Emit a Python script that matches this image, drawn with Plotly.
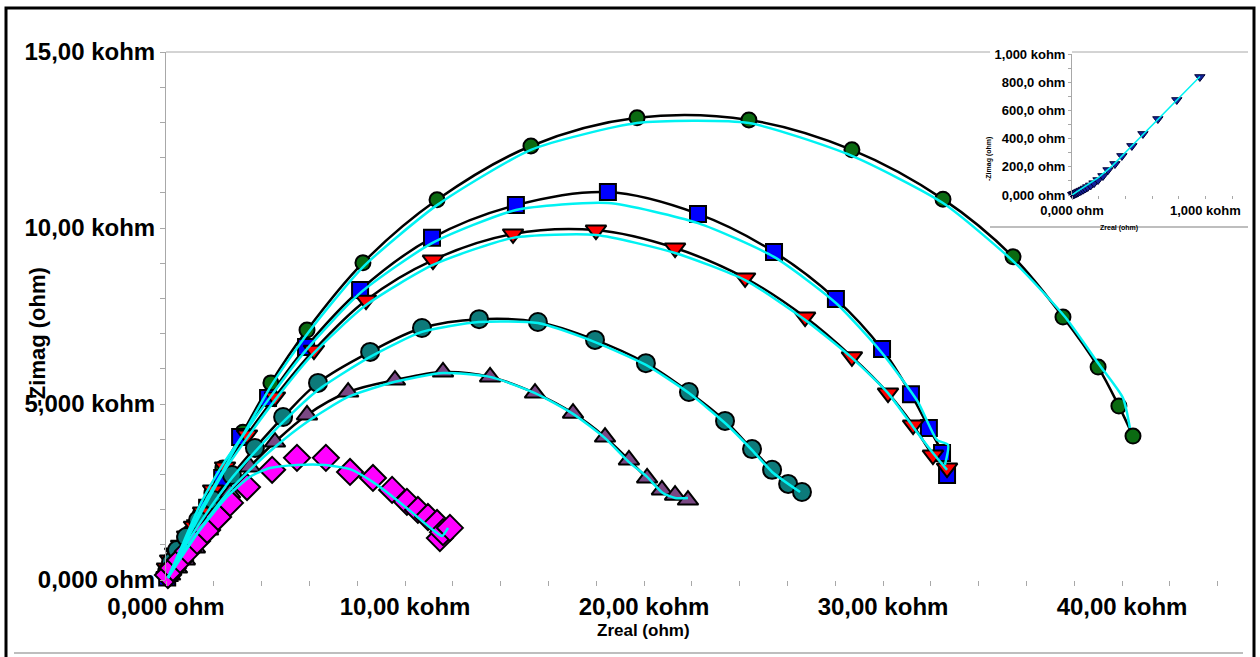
import plotly.graph_objects as go

# ---------------- data (kohm) ----------------
# Measured impedance spectra: Zreal / -Zimag per sample
zr_green = [0.05, 0.13, 0.25, 0.42, 0.67, 1.00, 1.42, 1.92, 2.38, 3.22, 4.39, 5.90, 8.24, 11.34,
            15.27, 19.71, 24.39, 28.70, 32.51, 35.44, 37.53, 39.00, 39.87, 40.46]
zi_green = [0.06, 0.17, 0.34, 0.57, 0.91, 1.34, 1.85, 2.47, 3.18, 4.20, 5.60, 7.10, 9.01, 10.80,
            12.33, 13.13, 13.07, 12.22, 10.82, 9.18, 7.47, 6.05, 4.94, 4.09]

zr_blue = [0.05, 0.15, 0.30, 0.52, 0.82, 1.22, 1.72, 2.35, 3.10, 4.27, 5.86, 8.12, 11.13, 14.64,
           18.49, 22.26, 25.44, 28.03, 29.96, 31.17, 31.92, 32.47, 32.68]
zi_blue = [0.07, 0.20, 0.40, 0.66, 1.02, 1.47, 2.05, 2.90, 4.06, 5.17, 6.62, 8.24, 9.72, 10.65,
           11.02, 10.40, 9.32, 7.98, 6.56, 5.28, 4.32, 3.61, 2.98]

zr_red = [0.02, 0.04, 0.17, 0.38, 0.63, 0.88, 1.17, 1.55, 1.97, 2.47, 3.39, 4.56, 6.19, 8.37, 11.17,
          14.52, 17.99, 21.30, 24.23, 26.74, 28.70, 30.21, 31.26, 32.09, 32.68]
zi_red = [0.10, 0.34, 0.57, 0.77, 0.99, 1.25, 1.53, 1.93, 2.56, 3.21, 4.12, 5.20, 6.53, 7.95, 9.09,
          9.83, 9.94, 9.43, 8.58, 7.47, 6.34, 5.31, 4.40, 3.55, 3.18]

zr_teal = [0.04, 0.21, 0.46, 0.84, 1.34, 1.97, 2.76, 3.72, 4.90, 6.36, 8.54, 10.71, 13.10, 15.56,
           17.95, 20.08, 21.88, 23.39, 24.52, 25.36, 26.03, 26.61]
zi_teal = [0.23, 0.51, 0.85, 1.22, 1.70, 2.27, 2.98, 3.75, 4.63, 5.60, 6.48, 7.16, 7.41, 7.33,
           6.82, 6.16, 5.34, 4.52, 3.72, 3.13, 2.73, 2.50]

zr_purple = [0.17, 0.46, 0.79, 1.21, 1.76, 2.20, 2.68, 3.51, 4.56, 5.90, 7.62, 9.58, 11.59, 13.56,
             15.44, 17.03, 18.37, 19.37, 20.13, 20.75, 21.30, 21.84]
zi_purple = [0.14, 0.34, 0.57, 0.91, 1.42, 1.90, 2.47, 3.21, 3.92, 4.69, 5.34, 5.68, 5.91, 5.77,
             5.31, 4.74, 4.06, 3.41, 2.90, 2.56, 2.41, 2.27]

zr_magenta = [0.08, 0.29, 0.59, 0.92, 1.30, 1.72, 2.18, 2.68, 3.39, 4.44, 5.48, 6.69, 7.70, 8.66,
              9.46, 10.08, 10.54, 10.96, 11.34, 11.46, 11.59, 11.88]
zi_magenta = [0.14, 0.34, 0.57, 0.82, 1.11, 1.42, 1.79, 2.19, 2.64, 3.13, 3.47, 3.47, 3.07, 2.90,
              2.56, 2.22, 1.99, 1.79, 1.62, 1.19, 1.36, 1.48]

# Equivalent-circuit fit curves (kohm)
fit_zr_green = [0.08, 0.59, 1.42, 2.34, 3.22, 4.39, 5.94, 8.24, 11.34, 15.27, 19.71, 24.39, 28.70,
                32.51, 35.52, 37.62, 39.00, 40.04, 40.33]
fit_zi_green = [0.06, 0.85, 2.13, 3.24, 4.12, 5.51, 7.02, 8.89, 10.65, 12.22, 12.98, 12.98, 12.05,
                10.71, 9.01, 7.47, 6.16, 5.17, 4.32]

fit_zr_blue = [0.08, 0.60, 1.45, 2.30, 3.10, 4.27, 5.86, 8.12, 11.13, 14.64, 18.49, 22.26, 25.44,
               28.03, 29.96, 31.46, 32.26, 32.72, 32.59]
fit_zi_blue = [0.06, 0.82, 2.00, 3.00, 3.98, 5.11, 6.53, 8.15, 9.57, 10.51, 10.71, 10.14, 9.18,
               7.87, 6.45, 5.06, 3.98, 3.84, 3.27]

fit_zr_red = [0.08, 0.62, 1.50, 2.47, 3.39, 4.56, 6.19, 8.37, 11.17, 14.52, 17.99, 21.30, 24.23,
              26.74, 28.70, 30.21, 31.26, 32.09, 32.68]
fit_zi_red = [0.06, 0.80, 1.95, 3.13, 4.03, 5.11, 6.45, 7.81, 8.95, 9.72, 9.80, 9.29, 8.52, 7.39,
              6.31, 5.31, 4.35, 3.61, 3.13]

fit_zr_teal = [0.08, 0.70, 1.70, 2.70, 3.72, 4.90, 6.36, 8.54, 10.71, 13.10, 15.56, 17.95, 20.08,
               21.88, 23.39, 24.52, 25.36, 26.53]
fit_zi_teal = [0.06, 0.85, 1.90, 2.85, 3.64, 4.49, 5.40, 6.34, 7.05, 7.33, 7.30, 6.76, 6.11, 5.31,
               4.46, 3.69, 3.07, 2.50]

fit_zr_purple = [0.08, 0.80, 1.80, 2.60, 3.51, 4.56, 5.90, 7.62, 9.58, 11.59, 13.56, 15.44, 17.03,
                 18.37, 19.37, 20.13, 20.79, 21.30, 21.84]
fit_zi_purple = [0.06, 0.85, 1.80, 2.50, 3.13, 3.78, 4.49, 5.20, 5.63, 5.88, 5.77, 5.31, 4.72,
                 4.03, 3.35, 2.93, 2.47, 2.33, 2.33]

fit_zr_magenta = [0.08, 0.60, 1.42, 2.55, 3.51, 4.35, 5.48, 6.65, 7.78, 8.66, 9.50, 10.33, 11.17,
                  11.55, 11.80]
fit_zi_magenta = [0.06, 0.60, 1.42, 2.36, 2.93, 3.18, 3.27, 3.27, 3.13, 2.78, 2.36, 1.90, 1.42,
                  1.25, 1.48]

# High-frequency detail (ohm)
zr_inset = [5, 10, 15, 22, 30, 38, 48, 58, 70, 85, 100, 118, 140, 165, 195, 232, 270, 322, 374,
            449, 532, 644, 786, 959]
zi_inset = [2, 4, 6, 9, 12, 16, 20, 25, 31, 38, 46, 56, 68, 84, 106, 135, 177, 220, 277, 348, 433,
            539, 674, 837]
fit_zr_inset = [0, 100, 200, 300, 450, 650, 800, 960]
fit_zi_inset = [0, 60, 125, 205, 350, 545, 690, 840]

x_tickvals = [0, 10, 20, 30, 40]
x_ticktext = ["0,000 ohm", "10,00 kohm", "20,00 kohm", "30,00 kohm", "40,00 kohm"]
y_tickvals = [0, 5, 10, 15]
y_ticktext = ["0,000 ohm", "5,000 kohm", "10,00 kohm", "15,00 kohm"]
xi_tickvals = [0, 1000]
xi_ticktext = ["0,000 ohm", "1,000 kohm"]
yi_tickvals = [0, 200, 400, 600, 800, 1000]
yi_ticktext = ["0,000 ohm", "200,0 ohm", "400,0 ohm", "600,0 ohm", "800,0 ohm", "1,000 kohm"]

# ---------------- layout geometry (pixels) ----------------
W, H = 1260, 657
L, R, T, B = 166, 1248, 52, 580
X_PER_K = 23.9


def px(x):
    return (x - L) / (R - L)


def py(y):
    return (B - y) / (B - T)


SANS = "Liberation Sans, Arial, sans-serif"
CYAN = "#00f2f2"
GREY = "#a8a8a8"

series = [
    (zr_green, zi_green, fit_zr_green, fit_zi_green, "circle", 15, "#0b6b12", True),
    (zr_blue, zi_blue, fit_zr_blue, fit_zi_blue, "square", 16, "#0000ff", True),
    (zr_red, zi_red, fit_zr_red, fit_zi_red, "triangle-down", 18, "#ff0000", True),
    (zr_teal, zi_teal, fit_zr_teal, fit_zi_teal, "circle", 18, "#0d7a7a", True),
    (zr_purple, zi_purple, fit_zr_purple, fit_zi_purple, "triangle-up", 18, "#7a4884", True),
    (zr_magenta, zi_magenta, fit_zr_magenta, fit_zi_magenta, "diamond", 20, "#ff00ff", False),
]

fig = go.Figure()

# smooth black guides
for zr, zi, fzr, fzi, sym, size, col, guide in series:
    if guide:
        fig.add_trace(go.Scatter(x=zr, y=zi, mode="lines",
                                 line=dict(color="black", width=2.5, shape="spline", smoothing=1.0),
                                 cliponaxis=False, hoverinfo="skip", showlegend=False))
# data markers
for zr, zi, fzr, fzi, sym, size, col, guide in series:
    fig.add_trace(go.Scatter(x=zr, y=zi, mode="markers",
                             marker=dict(symbol=sym, size=size, color=col,
                                         line=dict(color="black", width=2)),
                             cliponaxis=False, showlegend=False))
# fitted curves
for zr, zi, fzr, fzi, sym, size, col, guide in series:
    fig.add_trace(go.Scatter(x=fzr, y=fzi, mode="lines",
                             line=dict(color=CYAN, width=2.5, shape="spline", smoothing=0.6),
                             cliponaxis=False, hoverinfo="skip", showlegend=False))

# inset: high-frequency region
fig.add_trace(go.Scatter(x=zr_inset, y=zi_inset, mode="markers", xaxis="x2", yaxis="y2",
                         marker=dict(symbol="triangle-down", size=9, color="#14209a",
                                     line=dict(color="#000033", width=1)),
                         cliponaxis=False, showlegend=False))
fig.add_trace(go.Scatter(x=fit_zr_inset, y=fit_zi_inset, mode="lines", xaxis="x2", yaxis="y2",
                         line=dict(color=CYAN, width=1.5),
                         cliponaxis=False, hoverinfo="skip", showlegend=False))

tick_font = dict(family=SANS, size=24, color="black", weight="bold")
inset_font = dict(family=SANS, size=13, color="black", weight="bold")

fig.update_layout(
    width=W, height=H,
    margin=dict(l=L, r=W - R, t=T, b=H - B, autoexpand=False),
    paper_bgcolor="white", plot_bgcolor="white",
    showlegend=False,
    xaxis=dict(range=[0, (R - L) / X_PER_K], tickmode="array", tickvals=x_tickvals,
               ticktext=x_ticktext, ticks="outside", ticklen=5, tickcolor=GREY, tickwidth=1,
               minor=dict(tick0=0, dtick=2, ticks="outside", ticklen=5, tickcolor=GREY,
                          showgrid=False),
               showgrid=False, zeroline=False, showline=False, tickfont=tick_font,
               ticklabelstandoff=0, automargin=False),
    yaxis=dict(range=[0, 15], tickmode="array", tickvals=y_tickvals, ticktext=y_ticktext,
               ticks="outside", ticklen=5, tickcolor=GREY, tickwidth=1,
               minor=dict(tick0=0, dtick=1, ticks="outside", ticklen=5, tickcolor=GREY,
                          showgrid=False),
               showgrid=False, zeroline=False, showline=True, linecolor=GREY, linewidth=1,
               tickfont=tick_font, automargin=False),
    xaxis2=dict(domain=[px(1072), px(1245)], anchor="y2", range=[0, (1245 - 1072) / 0.13333],
                tickmode="array", tickvals=xi_tickvals, ticktext=xi_ticktext,
                ticks="outside", ticklen=3, tickcolor=GREY,
                minor=dict(tick0=0, dtick=200, ticks="outside", ticklen=3, tickcolor=GREY,
                           showgrid=False),
                showgrid=False, zeroline=False, showline=False, tickfont=inset_font,
                automargin=False),
    yaxis2=dict(domain=[py(195), py(54)], anchor="x2", range=[0, 1000],
                tickmode="array", tickvals=yi_tickvals, ticktext=yi_ticktext,
                ticks="outside", ticklen=3, tickcolor=GREY,
                minor=dict(tick0=0, dtick=100, ticks="outside", ticklen=3, tickcolor=GREY,
                           showgrid=False),
                showgrid=False, zeroline=False, showline=True, linecolor=GREY, linewidth=1,
                tickfont=inset_font, automargin=False),
)

# axis titles
fig.add_annotation(x=px(643), y=py(641), xref="paper", yref="paper", text="Zreal (ohm)",
                   showarrow=False, borderpad=0,
                   font=dict(family=SANS, size=17, color="black", weight="bold"))
fig.add_annotation(x=px(22), y=py(337), xref="paper", yref="paper", text="-Zimag (ohm)",
                   textangle=-90, showarrow=False,
                   font=dict(family=SANS, size=22, color="black", weight="bold"))
fig.add_annotation(x=px(1140), y=py(222), xref="paper", yref="paper", text="Zreal (ohm)",
                   showarrow=False, font=dict(family=SANS, size=7, color="black", weight="bold"))
fig.add_annotation(x=px(995), y=py(135), xref="paper", yref="paper", text="-Zimag (ohm)",
                   textangle=-90, showarrow=False,
                   font=dict(family=SANS, size=7, color="black", weight="bold"))


def hline(x0, x1, y, color, width):
    fig.add_shape(type="line", xref="paper", yref="paper", x0=px(x0), x1=px(x1),
                  y0=py(y), y1=py(y), line=dict(color=color, width=width), layer="below")


# plot frame lines
hline(166, 990, 52, GREY, 1)
hline(1072, 1248, 52, GREY, 1)
hline(990, 1248, 227, GREY, 1.5)
hline(14, 1243, 653, GREY, 1.5)

# outer border
fig.add_shape(type="rect", xref="paper", yref="paper", x0=px(6), x1=px(1254), y0=py(8),
              y1=py(662), line=dict(color="black", width=3), fillcolor="rgba(0,0,0,0)")

fig.write_html("out.html")
